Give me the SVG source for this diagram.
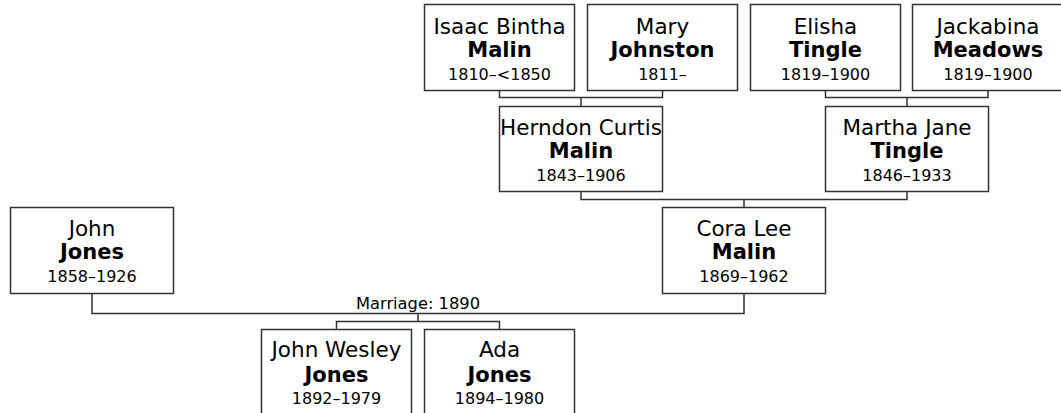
<svg xmlns="http://www.w3.org/2000/svg" width="1061" height="413" viewBox="0 0 1061 413">
<style>
.box{fill:#fff;stroke:#333;stroke-width:1.5}
.ln{fill:none;stroke:#333;stroke-width:1.5}
text{font-family:"DejaVu Sans",Verdana,sans-serif;fill:#000;text-anchor:middle}
.g{font-size:21.5px}
.s{font-size:21px;font-weight:bold}
.d{font-size:16px}
.m{font-size:16.3px}
</style>
<rect width="1061" height="413" fill="#fff"/>
<g id="connectors">
<path class="ln" d="M499.5,90.5V97.5H662.5V90.5M581,97.5V106.5"/>
<path class="ln" d="M825.5,90.5V97.5H988V90.5M907,97.5V106.5"/>
<path class="ln" d="M581,191.5V199.5H907V191.5M744,199.5V207.5"/>
<path class="ln" d="M92,293.5V313.5H744V293.5M418,313.5V321.5M336.5,329.5V321.5H499.5V329.5"/>
<text class="m" x="418" y="309">Marriage: 1890</text>
</g>
<g id="isaac"><rect class="box" x="424.5" y="4.5" width="150" height="86"/>
<text class="g" x="499.5" y="34">Isaac Bintha</text><text class="s" x="499.5" y="57">Malin</text><text class="d" x="499.5" y="80">1810–&lt;1850</text></g>
<g id="mary"><rect class="box" x="587.5" y="4.5" width="150" height="86"/>
<text class="g" x="662.5" y="34">Mary</text><text class="s" x="662.5" y="57">Johnston</text><text class="d" x="662.5" y="80">1811–</text></g>
<g id="elisha"><rect class="box" x="750.5" y="4.5" width="150" height="86"/>
<text class="g" x="825.5" y="34">Elisha</text><text class="s" x="825.5" y="57">Tingle</text><text class="d" x="825.5" y="80">1819–1900</text></g>
<g id="jackabina"><rect class="box" x="912.5" y="4.5" width="151" height="86"/>
<text class="g" x="988" y="34">Jackabina</text><text class="s" x="988" y="57">Meadows</text><text class="d" x="988" y="80">1819–1900</text></g>
<g id="herndon"><rect class="box" x="499.5" y="106.5" width="163" height="85"/>
<text class="g" x="581" y="135">Herndon Curtis</text><text class="s" x="581" y="158">Malin</text><text class="d" x="581" y="181">1843–1906</text></g>
<g id="martha"><rect class="box" x="825.5" y="106.5" width="163" height="85"/>
<text class="g" x="907" y="135">Martha Jane</text><text class="s" x="907" y="158">Tingle</text><text class="d" x="907" y="181">1846–1933</text></g>
<g id="john"><rect class="box" x="10.5" y="207.5" width="163" height="86"/>
<text class="g" x="92" y="236">John</text><text class="s" x="92" y="259">Jones</text><text class="d" x="92" y="282">1858–1926</text></g>
<g id="cora"><rect class="box" x="662.5" y="207.5" width="163" height="86"/>
<text class="g" x="744" y="236">Cora Lee</text><text class="s" x="744" y="259">Malin</text><text class="d" x="744" y="282">1869–1962</text></g>
<g id="johnwesley"><rect class="box" x="261.5" y="329.5" width="150" height="100"/>
<text class="g" x="336.5" y="357">John Wesley</text><text class="s" x="336.5" y="382">Jones</text><text class="d" x="336.5" y="404">1892–1979</text></g>
<g id="ada"><rect class="box" x="424.5" y="329.5" width="150" height="100"/>
<text class="g" x="499.5" y="357">Ada</text><text class="s" x="499.5" y="382">Jones</text><text class="d" x="499.5" y="404">1894–1980</text></g>
</svg>
